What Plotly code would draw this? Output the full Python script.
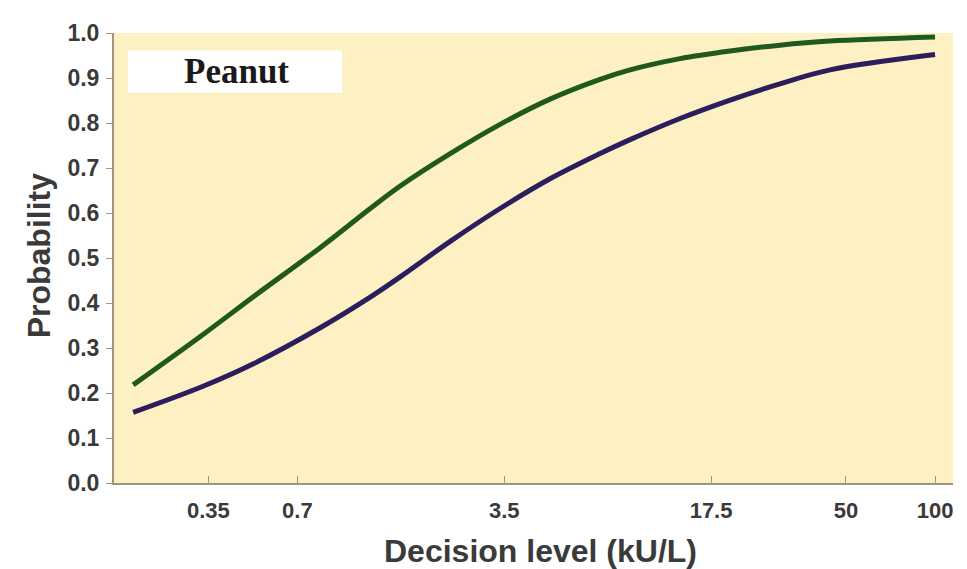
import plotly.graph_objects as go

# Decision level (kU/L) sample points
decision_level = [0.195, 0.336, 0.497, 0.836, 1.234, 1.558, 2.299, 3.39,
                  5.00, 7.38, 9.32, 13.75, 20.3, 29.9, 44.2, 100]
prob_green = [0.218, 0.330, 0.414, 0.523, 0.610, 0.660, 0.732, 0.797,
              0.853, 0.897, 0.918, 0.943, 0.960, 0.973, 0.982, 0.991]
prob_purple = [0.157, 0.215, 0.265, 0.345, 0.413, 0.458, 0.537, 0.610,
               0.676, 0.732, 0.763, 0.810, 0.851, 0.887, 0.918, 0.952]

x_tick_vals = [0.35, 0.7, 3.5, 17.5, 50, 100]
x_tick_text = ["0.35", "0.7", "3.5", "17.5", "50", "100"]
y_tick_vals = [0.0, 0.1, 0.2, 0.3, 0.4, 0.5, 0.6, 0.7, 0.8, 0.9, 1.0]

FONT = "Liberation Sans, Arial, sans-serif"
TXT = "#3a3a3a"

fig = go.Figure()
fig.add_trace(go.Scatter(x=decision_level, y=prob_green, mode="lines",
                         line=dict(color="#1f5a1c", width=5, shape="spline", smoothing=1),
                         showlegend=False, hoverinfo="skip"))
fig.add_trace(go.Scatter(x=decision_level, y=prob_purple, mode="lines",
                         line=dict(color="#2c1d5c", width=5, shape="spline", smoothing=1),
                         showlegend=False, hoverinfo="skip"))

# the page body adds an 8px offset, so margins are shifted by 8px
fig.update_layout(
    width=967, height=569,
    margin=dict(l=106, r=22, t=16, b=94),
    paper_bgcolor="white",
    plot_bgcolor="#fdf0c3",
    xaxis=dict(type="log", range=[-0.7747, 2.0607],
               tickvals=x_tick_vals, ticktext=x_tick_text,
               showgrid=False, zeroline=False,
               showline=True, linecolor="#9d9680", linewidth=2,
               ticks="inside", ticklen=7, tickcolor="#9d9680",
               ticklabelstandoff=7,
               tickfont=dict(family=FONT, size=22, color=TXT, weight="bold")),
    yaxis=dict(range=[0, 1.0], tickvals=y_tick_vals, tickformat=".1f",
               showgrid=False, zeroline=False,
               showline=True, linecolor="#9d9680", linewidth=2,
               ticks="outside", ticklen=6, tickcolor="#9d9680",
               ticklabelstandoff=2,
               tickfont=dict(family=FONT, size=23, color=TXT, weight="bold")),
)

# "Peanut" label box
fig.add_shape(type="rect", xref="paper", yref="y",
              x0=0.0167, x1=0.2718, y0=0.867, y1=0.961,
              fillcolor="white", line=dict(width=0), layer="above")
fig.add_annotation(xref="paper", yref="y", x=0.1455, y=0.914,
                   text="<b>Peanut</b>", showarrow=False,
                   font=dict(family="Liberation Serif, Times New Roman, serif", size=35, color="#1a1a1a"),
                   xanchor="center", yanchor="middle")

# Axis titles
fig.add_annotation(xref="paper", yref="paper", x=0.508, y=-0.152,
                   text="<b>Decision level (kU/L)</b>", showarrow=False,
                   font=dict(family=FONT, size=32, color=TXT),
                   xanchor="center", yanchor="middle")
fig.add_annotation(xref="paper", yref="paper", x=-0.090, y=0.507,
                   text="<b>Probability</b>", showarrow=False, textangle=-90,
                   font=dict(family=FONT, size=32, color=TXT),
                   xanchor="center", yanchor="middle")

fig.write_html("out.html")
